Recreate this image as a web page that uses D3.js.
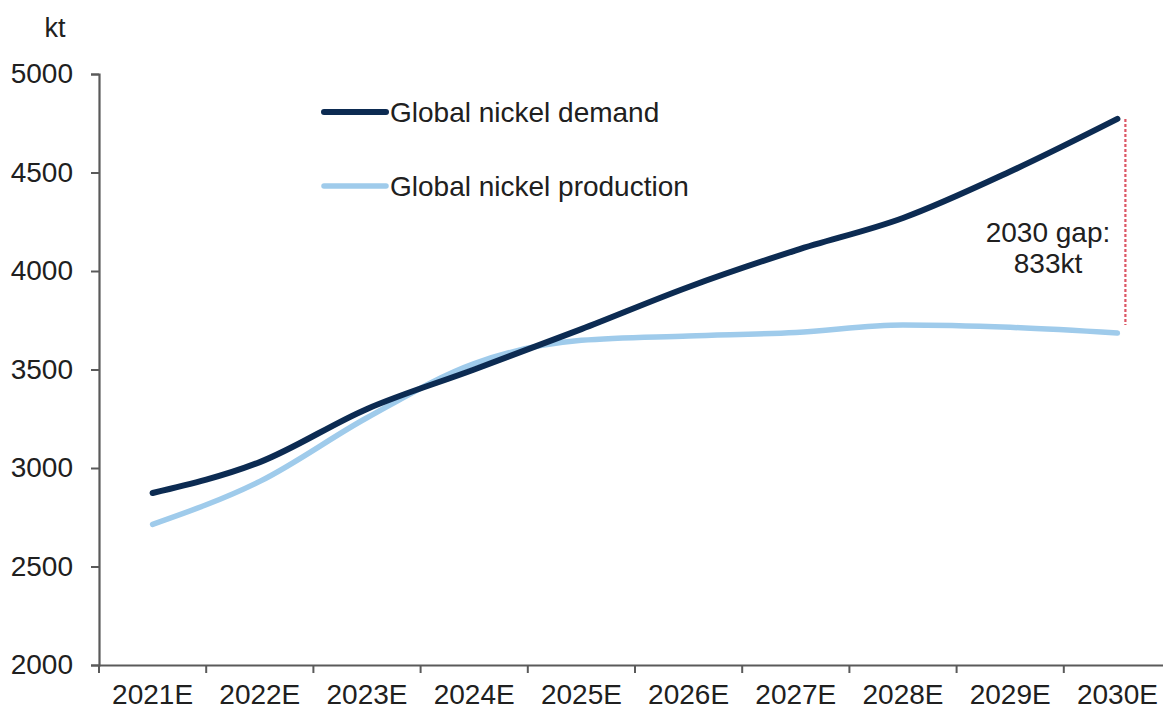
<!DOCTYPE html>
<html>
<head>
<meta charset="utf-8">
<script src="https://cdn.jsdelivr.net/npm/d3@7/dist/d3.min.js"></script>
<style>
  html, body { margin: 0; padding: 0; background: #ffffff; }
  svg { display: block; }
  text { font-family: "Liberation Sans", Arial, sans-serif; fill: #202020; }
</style>
</head>
<body>
<svg id="chart" width="1163" height="711"></svg>
<script>
// Forecast years
const categories = ["2021E", "2022E", "2023E", "2024E", "2025E", "2026E", "2027E", "2028E", "2029E", "2030E"];
// Global nickel demand, kt
const demand = [2873, 3030, 3300, 3500, 3705, 3919, 4105, 4269, 4505, 4772];
// Global nickel production, kt
const production = [2714, 2932, 3255, 3530, 3648, 3670, 3688, 3726, 3714, 3685];
// Value axis ticks
const yTicks = [2000, 2500, 3000, 3500, 4000, 4500, 5000];
const seriesNames = ["Global nickel demand", "Global nickel production"];
const gapLabel = ["2030 gap:", "833kt"];

const svg = d3.select("#chart");
const axisColor = "#5a5a5a";
const demandColor = "#0c2b52";
const productionColor = "#9fcbeb";
const fontSize = 28;

const x = d3.scaleBand().domain(categories).range([99, 1171]).padding(0);
const y = d3.scaleLinear().domain([2000, 5000]).range([665, 74]);

// Y axis
const yAxis = svg.append("g")
  .attr("transform", "translate(99,0)")
  .call(d3.axisLeft(y).tickValues(yTicks).tickSize(8).tickPadding(18).tickFormat(d3.format("d")));
yAxis.select(".domain").attr("stroke", axisColor).attr("stroke-width", 2.2);
yAxis.selectAll(".tick line").attr("stroke", axisColor).attr("stroke-width", 2);
yAxis.selectAll(".tick text")
  .attr("font-size", fontSize).attr("font-family", "Liberation Sans, Arial, sans-serif")
  .attr("fill", "#202020");

// X axis: labels at band centres, tick marks at band boundaries
const xAxis = svg.append("g")
  .attr("transform", `translate(0,${y(2000)})`)
  .call(d3.axisBottom(x).tickSize(0).tickPadding(19));
xAxis.select(".domain").attr("stroke", axisColor).attr("stroke-width", 2.2);
xAxis.selectAll(".tick text")
  .attr("font-size", fontSize).attr("font-family", "Liberation Sans, Arial, sans-serif")
  .attr("fill", "#202020");
xAxis.selectAll(".boundary")
  .data(categories)
  .join("line")
  .attr("class", "boundary")
  .attr("x1", d => x(d)).attr("x2", d => x(d))
  .attr("y1", 0).attr("y2", 8)
  .attr("stroke", axisColor).attr("stroke-width", 2);

// Unit label
svg.append("text")
  .attr("x", 55).attr("y", 37)
  .attr("text-anchor", "middle")
  .attr("font-size", 27)
  .text("kt");

const cx = d => x(d) + x.bandwidth() / 2;
const line = d3.line()
  .x((d, i) => cx(categories[i]))
  .y(d => y(d))
  .curve(d3.curveMonotoneX);

svg.append("path")
  .datum(production)
  .attr("d", line)
  .attr("fill", "none")
  .attr("stroke", productionColor)
  .attr("stroke-width", 5.5)
  .attr("stroke-linecap", "round");

svg.append("path")
  .datum(demand)
  .attr("d", line)
  .attr("fill", "none")
  .attr("stroke", demandColor)
  .attr("stroke-width", 6)
  .attr("stroke-linecap", "round");

// Gap marker for the last year
const last = categories.length - 1;
const gx = cx(categories[last]) + 8;
svg.append("line")
  .attr("x1", gx).attr("x2", gx)
  .attr("y1", y(demand[last])).attr("y2", y(production[last]) - 8)
  .attr("stroke", "#dc5665")
  .attr("stroke-width", 2.2)
  .attr("stroke-dasharray", "3,2");

svg.append("text")
  .attr("x", 1048).attr("y", 242)
  .attr("text-anchor", "middle")
  .attr("font-size", fontSize)
  .text(gapLabel[0]);
svg.append("text")
  .attr("x", 1048).attr("y", 273)
  .attr("text-anchor", "middle")
  .attr("font-size", fontSize)
  .text(gapLabel[1]);

// Legend
const legend = svg.append("g");
const legendRows = [
  { name: seriesNames[0], color: demandColor, w: 6, y: 112 },
  { name: seriesNames[1], color: productionColor, w: 5.5, y: 186 }
];
legendRows.forEach(r => {
  legend.append("line")
    .attr("x1", 324).attr("x2", 386)
    .attr("y1", r.y).attr("y2", r.y)
    .attr("stroke", r.color).attr("stroke-width", r.w)
    .attr("stroke-linecap", "round");
  legend.append("text")
    .attr("x", 390).attr("y", r.y + 10)
    .attr("font-size", fontSize)
    .text(r.name);
});
</script>
</body>
</html>
